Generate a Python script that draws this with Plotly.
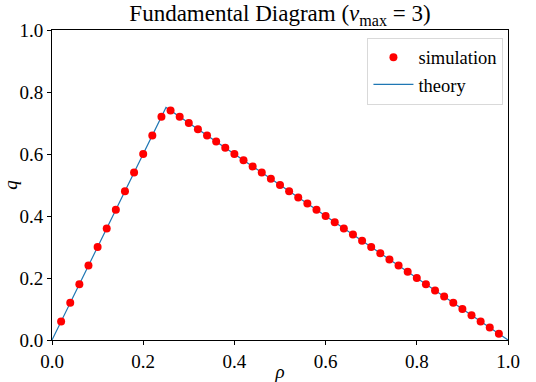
import plotly.graph_objects as go

rho_sim = [0.02, 0.04, 0.06, 0.08, 0.10, 0.12, 0.14, 0.16, 0.18, 0.20, 0.22, 0.24,
           0.26, 0.28, 0.30, 0.32, 0.34, 0.36, 0.38, 0.40, 0.42, 0.44, 0.46, 0.48,
           0.50, 0.52, 0.54, 0.56, 0.58, 0.60, 0.62, 0.64, 0.66, 0.68, 0.70, 0.72,
           0.74, 0.76, 0.78, 0.80, 0.82, 0.84, 0.86, 0.88, 0.90, 0.92, 0.94, 0.96, 0.98]
q_sim = [0.06, 0.12, 0.18, 0.24, 0.30, 0.36, 0.42, 0.48, 0.54, 0.60, 0.66, 0.72,
         0.74, 0.72, 0.70, 0.68, 0.66, 0.64, 0.62, 0.60, 0.58, 0.56, 0.54, 0.52,
         0.50, 0.48, 0.46, 0.44, 0.42, 0.40, 0.38, 0.36, 0.34, 0.32, 0.30, 0.28,
         0.26, 0.24, 0.22, 0.20, 0.18, 0.16, 0.14, 0.12, 0.10, 0.08, 0.06, 0.04, 0.02]
rho_theory = [0.0, 0.25, 1.0]
q_theory = [0.0, 0.75, 0.0]
tick_vals = [0.0, 0.2, 0.4, 0.6, 0.8, 1.0]
tick_text = ["0.0", "0.2", "0.4", "0.6", "0.8", "1.0"]

FONT = "Liberation Serif, Times New Roman, serif"

fig = go.Figure()
fig.add_trace(go.Scatter(x=rho_theory, y=q_theory, mode="lines", name="theory",
                         line=dict(color="#1f77b4", width=1.2), showlegend=False))
fig.add_trace(go.Scatter(x=rho_sim, y=q_sim, mode="markers", name="simulation",
                         marker=dict(color="red", size=8, line=dict(width=0))))
fig.add_trace(go.Scatter(x=[0.5], y=[-5], mode="lines", name="theory",
                         line=dict(color="#1f77b4", width=1.2)))

axis_common = dict(range=[0, 1], tickvals=tick_vals, ticktext=tick_text,
                   showgrid=False, zeroline=False, showline=True, mirror=True,
                   linecolor="black", linewidth=1, ticks="outside", ticklen=4,
                   tickcolor="black", automargin=False,
                   tickfont=dict(family=FONT, size=19, color="black"))

fig.update_layout(
    width=536, height=382,
    margin=dict(l=52, r=28, t=30, b=42),
    paper_bgcolor="white", plot_bgcolor="white",
    font=dict(family=FONT, color="black"),
    title=dict(text="Fundamental Diagram (<i>v</i><sub>max</sub> = 3)",
               x=0.5, xref="paper", y=0.965, yref="container", yanchor="middle",
               font=dict(family=FONT, size=23, color="black")),
    xaxis=dict(**axis_common,
               title=dict(text="<i>ρ</i>", font=dict(family=FONT, size=19), standoff=4)),
    yaxis=dict(**axis_common,
               title=dict(text="<i>q</i>", font=dict(family=FONT, size=19), standoff=8)),
    legend=dict(x=0.99, y=0.975, xanchor="right", yanchor="top",
                bgcolor="rgba(255,255,255,0.8)", bordercolor="#d9d9d9", borderwidth=1,
                font=dict(family=FONT, size=18.5, color="black"),
                itemwidth=40, tracegroupgap=0),
)

fig.write_html("out.html")
